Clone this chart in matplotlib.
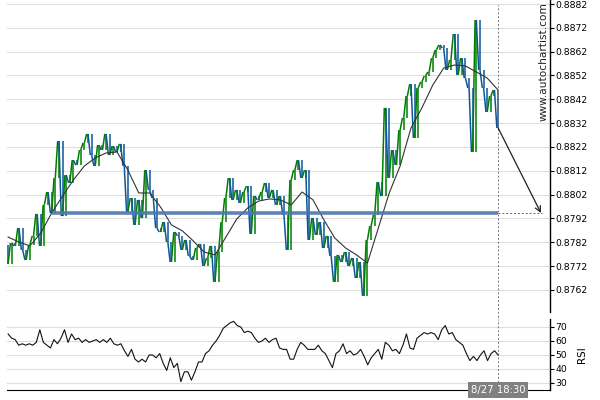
"""
Autochartist-style pattern chart: price bars, moving average, support level
and RSI panel underneath.
"""

import numpy as np
import matplotlib.pyplot as plt
import matplotlib.transforms as mtransforms
from matplotlib.collections import LineCollection

# price closes, one per bar (the open of each bar is the previous close)
first_open = 0.87809
closes = [
    0.87729, 0.87817, 0.87805, 0.87880, 0.87788, 0.87746, 0.87809, 0.87847, 0.87939, 0.87805,
    0.87977, 0.88031, 0.87943, 0.88090, 0.88245, 0.87930, 0.88102, 0.88069, 0.88165, 0.88144,
    0.88207, 0.88237, 0.88275, 0.88186, 0.88140, 0.88228, 0.88207, 0.88275, 0.88186, 0.88224,
    0.88199, 0.88233, 0.88140, 0.87947, 0.88006, 0.87893, 0.87998, 0.87922, 0.88123, 0.88040,
    0.88006, 0.87880, 0.87863, 0.87905, 0.87821, 0.87737, 0.87863, 0.87847, 0.87788, 0.87830,
    0.87763, 0.87746, 0.87796, 0.87813, 0.87721, 0.87754, 0.87805, 0.87654, 0.87779, 0.87905,
    0.88006, 0.88090, 0.87998, 0.88040, 0.87985, 0.88031, 0.88056, 0.87855, 0.88014, 0.87998,
    0.88031, 0.88069, 0.88006, 0.88040, 0.87977, 0.88014, 0.87935, 0.87788, 0.88082, 0.88123,
    0.88165, 0.88090, 0.88123, 0.87830, 0.87922, 0.87851, 0.87905, 0.87796, 0.87847, 0.87763,
    0.87654, 0.87767, 0.87737, 0.87779, 0.87721, 0.87754, 0.87670, 0.87737, 0.87595, 0.87830,
    0.87888, 0.87935, 0.88073, 0.88014, 0.88384, 0.88090, 0.88207, 0.88144, 0.88291, 0.88342,
    0.88434, 0.88484, 0.88258, 0.88468, 0.88493, 0.88518, 0.88535, 0.88593, 0.88627, 0.88648,
    0.88635, 0.88543, 0.88585, 0.88694, 0.88522, 0.88593, 0.88509, 0.88468, 0.88199, 0.88753,
    0.88543, 0.88468, 0.88367, 0.88434, 0.88459, 0.88300,
]

# moving average, read every 3rd bar
ma_every = 3
ma_values = [
    0.87842, 0.87821, 0.87805, 0.87859, 0.87943, 0.88014, 0.88082, 0.88140, 0.88174, 0.88195,
    0.88199, 0.88123, 0.88027, 0.88027, 0.87968, 0.87893, 0.87868, 0.87826, 0.87779, 0.87767,
    0.87842, 0.87918, 0.87964, 0.87993, 0.88002, 0.87998, 0.87977, 0.88031, 0.87998, 0.87914,
    0.87838, 0.87796, 0.87767, 0.87733, 0.87880, 0.88027, 0.88140, 0.88300, 0.88384, 0.88480,
    0.88551, 0.88564, 0.88560, 0.88535, 0.88509, 0.88459,
]

rsi = [
    65, 62, 61, 57, 58, 57, 58, 57, 59, 68, 59, 57, 55, 61, 58, 62, 68, 59, 65, 61,
    62, 59, 61, 59, 60, 61, 59, 61, 59, 62, 58, 57, 58, 53, 49, 54, 47, 45, 47, 45,
    50, 50, 48, 51, 44, 39, 48, 41, 44, 31, 38, 38, 32, 38, 45, 45, 51, 53, 57, 60,
    64, 69, 71, 73, 74, 71, 70, 66, 67, 66, 62, 59, 60, 62, 59, 61, 62, 55, 54, 54,
    47, 47, 54, 59, 57, 54, 54, 54, 57, 53, 51, 46, 41, 51, 53, 58, 51, 53, 50, 51,
    54, 49, 43, 48, 51, 54, 47, 59, 57, 53, 54, 51, 57, 65, 55, 54, 62, 64, 66, 65,
    66, 65, 61, 68, 71, 65, 66, 61, 59, 57, 51, 46, 49, 46, 50, 53, 46, 51, 53, 50,
]

level = 0.87943          # support level
level_start = 12         # bar where the level line starts
forecast_bars = 12       # how far the projected move reaches
last_time = '8/27 18:30'

price_ticks = [0.8762, 0.8772, 0.8782, 0.8792, 0.8802, 0.8812,
               0.8822, 0.8832, 0.8842, 0.8852, 0.8862, 0.8872, 0.8882]
rsi_ticks = [30, 40, 50, 60, 70]

UP = '#007d00'
DOWN = '#0b5799'
GRID = '#dedede'

closes = np.array(closes)
opens = np.concatenate([[first_open], closes[:-1]])
idx = np.arange(len(closes))
last = idx[-1]

fig = plt.figure(figsize=(6, 4), dpi=100)
ax = fig.add_axes([0.0117, 0.22, 0.905, 0.78])
ax_rsi = fig.add_axes([0.0117, 0.025, 0.905, 0.1775])

xmax = last + forecast_bars + 2.3
for a in (ax, ax_rsi):
    a.set_xlim(-0.3, xmax)
    for s in ('left', 'top'):
        a.spines[s].set_visible(False)
    a.spines['right'].set_linewidth(1.0)
    a.yaxis.tick_right()
    a.tick_params(axis='y', length=3, width=0.8, pad=1, labelsize=6.7)
    a.set_xticks([])
    a.set_axisbelow(True)
    a.grid(axis='y', color=GRID, lw=0.8)
ax.spines['bottom'].set_visible(False)

# price bars: a vertical stroke per bar plus a link from the previous close
up = closes >= opens
colors = np.where(up, UP, DOWN)
ax.vlines(idx, opens, closes, colors=colors, lw=1.1)
links = [[(i - 1, o), (i - 0.35, c)] for i, o, c in zip(idx, opens, closes)]
ax.add_collection(LineCollection(links, colors=colors, lw=1.1))

# moving average
ma_x = np.arange(0, len(closes), ma_every)
ax.plot(ma_x, ma_values, color='#333333', lw=0.8)

# support level and projection
ax.hlines(level, level_start, last, color='#4f76b0', lw=2.6, alpha=0.9)
ax.hlines(level, last, last + forecast_bars, color='#666666', lw=0.7,
          linestyles=(0, (2, 2)))
ax.annotate('', xy=(last + forecast_bars - 0.2, level), xytext=(last, closes[-1]),
            arrowprops=dict(arrowstyle='->', color='#222222', lw=0.9,
                            shrinkA=0, shrinkB=0, mutation_scale=10))

ax.set_yticks(price_ticks)
ax.set_yticklabels([f'{t:.4f}' for t in price_ticks])
ax.set_ylim(0.875275, 0.888368)

# time marker spanning both panels
ax.axvline(last, ymin=-0.03, ymax=0.985, color='#777777', lw=0.7,
           linestyle=(0, (2, 2)), clip_on=False)
ax_rsi.axvline(last, color='#777777', lw=0.7, linestyle=(0, (2, 2)))

ax.text(0.9885, 0.993, 'www.autochartist.com', transform=ax.transAxes,
        rotation=90, ha='center', va='top', fontsize=7.6, color='#222222')

# RSI panel
rsi_x = np.linspace(0, last, len(rsi))
ax_rsi.plot(rsi_x, rsi, color='#111111', lw=0.8)
ax_rsi.set_ylim(25, 75.7)
ax_rsi.set_yticks(rsi_ticks)
ax_rsi.yaxis.set_label_position('right')
ax_rsi.set_ylabel('RSI', fontsize=7.5, labelpad=7)

trans = mtransforms.blended_transform_factory(ax_rsi.transData, ax_rsi.transAxes)
ax_rsi.text(last, 0.0, last_time, transform=trans, ha='center', va='center',
            fontsize=7.3, color='white',
            bbox=dict(boxstyle='square,pad=0.3', fc='#808080', ec='none'))

plt.savefig('out.png', dpi=100)
